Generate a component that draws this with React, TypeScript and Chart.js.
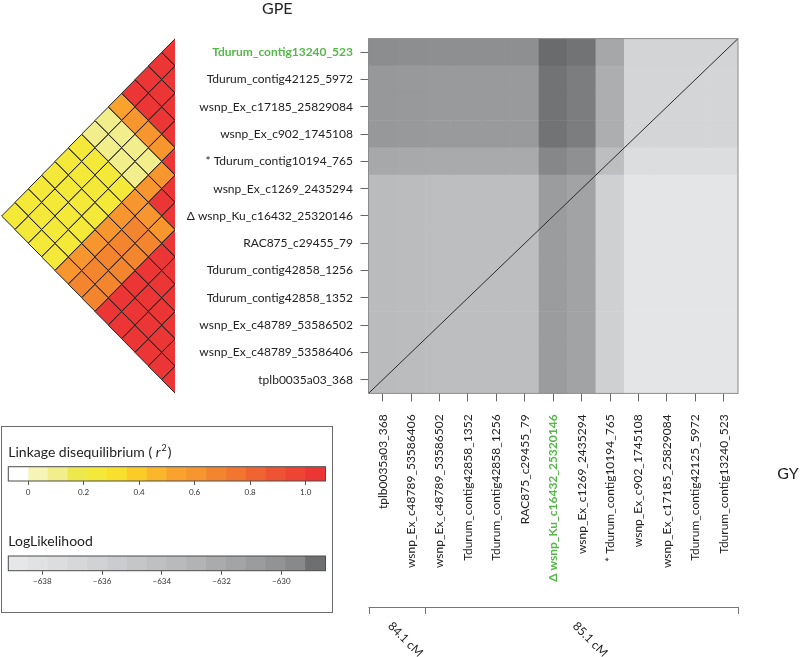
import React, { useEffect, useRef } from 'react';
import { Chart, registerables } from 'chart.js';
Chart.register(...registerables);

const FONT = 'Lato, "Open Sans", sans-serif';
const TEXT = '#222222';
const GREEN = '#55b649';

// Markers, top -> bottom (rows of the heatmap / right edge of LD triangle)
const markers = [
  'Tdurum_contig13240_523',
  'Tdurum_contig42125_5972',
  'wsnp_Ex_c17185_25829084',
  'wsnp_Ex_c902_1745108',
  '* Tdurum_contig10194_765',
  'wsnp_Ex_c1269_2435294',
  'Δ wsnp_Ku_c16432_25320146',
  'RAC875_c29455_79',
  'Tdurum_contig42858_1256',
  'Tdurum_contig42858_1352',
  'wsnp_Ex_c48789_53586502',
  'wsnp_Ex_c48789_53586406',
  'tplb0035a03_368',
];
// Columns, left -> right
const colLabels = [...markers].reverse();
const rowHighlight = 'Tdurum_contig13240_523';
const colHighlight = 'Δ wsnp_Ku_c16432_25320146';

// LogLikelihood grid (rows top->bottom, columns left->right)
const logLik = [
  [-631.2, -631.3, -631.4, -631.4, -631.4, -631.4, -628.3, -629.0, -633.5, -637.5, -637.5, -637.5, -637.5],
  [-632.2, -632.3, -632.4, -632.4, -632.4, -632.4, -629.0, -629.8, -634.1, -637.6, -637.6, -637.6, -637.6],
  [-632.2, -632.3, -632.4, -632.4, -632.4, -632.4, -629.0, -629.8, -634.1, -637.6, -637.6, -637.6, -637.6],
  [-632.2, -632.3, -632.4, -632.4, -632.4, -632.4, -629.0, -629.8, -634.1, -637.6, -637.6, -637.6, -637.6],
  [-633.6, -633.7, -633.8, -633.8, -633.8, -633.8, -630.7, -631.5, -635.5, -638.3, -638.3, -638.3, -638.3],
  [-635.3, -635.4, -635.5, -635.5, -635.5, -635.5, -632.6, -633.2, -637.1, -639.0, -639.0, -639.0, -639.0],
  [-635.3, -635.4, -635.5, -635.5, -635.5, -635.5, -632.6, -633.2, -637.1, -639.0, -639.0, -639.0, -639.0],
  [-635.3, -635.4, -635.5, -635.5, -635.5, -635.5, -632.6, -633.2, -637.1, -639.0, -639.0, -639.0, -639.0],
  [-635.3, -635.4, -635.5, -635.5, -635.5, -635.5, -632.6, -633.2, -637.1, -639.0, -639.0, -639.0, -639.0],
  [-635.3, -635.4, -635.5, -635.5, -635.5, -635.5, -632.6, -633.2, -637.1, -639.0, -639.0, -639.0, -639.0],
  [-635.3, -635.4, -635.5, -635.5, -635.5, -635.5, -632.6, -633.2, -637.1, -639.0, -639.0, -639.0, -639.0],
  [-635.3, -635.4, -635.5, -635.5, -635.5, -635.5, -632.6, -633.2, -637.1, -639.0, -639.0, -639.0, -639.0],
  [-635.3, -635.4, -635.5, -635.5, -635.5, -635.5, -632.6, -633.2, -637.1, -639.0, -639.0, -639.0, -639.0],
];

// LD r^2, upper triangle: row i holds pairs (i, j) for j = i..12
const ldRows = [
  [1, 1, 1, 1, 0.55, 0.1, 0.1, 0.25, 0.25, 0.25, 0.25, 0.25, 0.25],
  [1, 1, 1, 0.6, 0.1, 0.1, 0.25, 0.25, 0.25, 0.25, 0.25, 0.25],
  [1, 1, 0.6, 0.1, 0.1, 0.25, 0.25, 0.25, 0.25, 0.25, 0.25],
  [1, 0.6, 0.1, 0.1, 0.25, 0.25, 0.25, 0.25, 0.25, 0.25],
  [1, 0.6, 0.6, 0.6, 0.6, 0.6, 0.6, 0.6, 0.6],
  [1, 1, 0.6, 0.65, 0.65, 0.65, 0.65, 0.65],
  [1, 0.6, 0.65, 0.65, 0.65, 0.65, 0.65],
  [1, 1, 1, 1, 1, 1],
  [1, 1, 1, 1, 1],
  [1, 1, 1, 1],
  [1, 1, 1],
  [1, 1],
  [1],
];

// Legend scales
const ldPalette = ['#ffffff', '#f7f4b8', '#f3ee8c', '#ede94c', '#f4e838', '#f9e02c', '#fdcb28', '#fbb62b', '#f9a22d', '#f7952e', '#f4852f', '#f27530', '#f06432', '#ee5433', '#ed4434', '#ec3535'];
const ldBreaks = [-0.0714, 0, 0.0714, 0.1429, 0.2143, 0.2857, 0.3571, 0.4286, 0.5, 0.5714, 0.6429, 0.7143, 0.7857, 0.8571, 0.9286, 1.0, 1.0714];
const ldTicks = [0, 0.2, 0.4, 0.6, 0.8, 1.0];
const ldTickLabels = ['0', '0.2', '0.4', '0.6', '0.8', '1.0'];

const llPalette = ['#e6e7e8', '#e1e2e3', '#dcdddf', '#d7d8da', '#d1d2d4', '#cbcccf', '#c5c6c8', '#bfc0c2', '#b9babc', '#b2b3b5', '#aaabad', '#a3a4a6', '#9b9c9e', '#929395', '#88898b', '#6e6f71'];
const llBreaks = [-639.14, -638.48, -637.81, -637.15, -636.49, -635.82, -635.16, -634.5, -633.83, -633.17, -632.51, -631.84, -631.18, -630.52, -629.85, -629.19, -628.52];
const llTicks = [-638, -636, -634, -632, -630];
const llTickLabels = ['\u2212638', '\u2212636', '\u2212634', '\u2212632', '\u2212630'];

// Genetic map segments below the heatmap (columns left -> right)
const distanceLabels = ['84.1 cM', '85.1 cM'];
const distanceCounts = [2, 11];

const yTitle = 'GPE';
const xTitle = 'GY';

function ldColor(v: number) {
  for (let k = 0; k < ldPalette.length; k++) {
    if (v >= ldBreaks[k] && v < ldBreaks[k + 1]) return ldPalette[k];
  }
  return ldPalette[ldPalette.length - 1];
}
function llColor(v: number) {
  const lo = llBreaks[0];
  const hi = llBreaks[llBreaks.length - 1];
  const g = Math.round(Math.max(95, Math.min(232, 230 - ((v - lo) / (hi - lo)) * 121)));
  return `rgb(${g},${g + 1},${g + 3})`;
}

const base: any = {
  responsive: false,
  maintainAspectRatio: false,
  animation: false,
  devicePixelRatio: 1,
  events: [],
  plugins: { legend: { display: false }, tooltip: { enabled: false }, title: { display: false } },
};

function triangleConfig(): any {
  const pts: any[] = [];
  const cols: string[] = [];
  ldRows.forEach((row, i) =>
    row.forEach((v, k) => {
      const j = i + k;
      pts.push({ x: -(j - i) / 2, y: (i + j + 1) / 2 });
      cols.push(ldColor(v));
    })
  );
  return {
    type: 'scatter',
    data: {
      datasets: [
        {
          data: pts,
          pointStyle: 'rectRot',
          pointBackgroundColor: cols,
          pointBorderColor: '#1f1f1f',
          pointBorderWidth: 1,
          pointRadius: (c: any) => {
            const s = c.chart.scales.x;
            return Math.abs(s.getPixelForValue(0.5) - s.getPixelForValue(0));
          },
          showLine: false,
          clip: { left: 2, top: 2, right: 0, bottom: 2 },
        },
      ],
    },
    options: {
      ...base,
      layout: { padding: { left: 1.6, right: 7, top: 8.6, bottom: 6.6 } },
      scales: {
        x: { type: 'linear', min: -6.5, max: 0, display: false },
        y: { type: 'linear', min: 0, max: 13, reverse: true, display: false },
      },
    },
  };
}

const heatFrame = {
  id: 'heatFrame',
  afterDatasetsDraw(chart: any) {
    const { ctx, chartArea: a } = chart;
    ctx.save();
    ctx.strokeStyle = '#8c8c8c';
    ctx.lineWidth = 1;
    ctx.strokeRect(a.left, a.top, a.right - a.left, a.bottom - a.top);
    ctx.restore();
  },
};

const heatExtras = {
  id: 'heatExtras',
  afterDraw(chart: any) {
    const { ctx, chartArea: a } = chart;
    const xs = chart.scales.x;
    const ys = chart.scales.y;
    ctx.save();
    ctx.fillStyle = TEXT;
    ctx.font = `16px ${FONT}`;
    ctx.textAlign = 'center';
    ctx.textBaseline = 'alphabetic';
    ctx.fillText(yTitle, (ys.left + ys.right) / 2 + 2, a.top - 25);
    ctx.fillText(xTitle, a.right + 50, xs.top + 86);

    // genetic map line
    const yLine = xs.top + 213.6;
    ctx.strokeStyle = '#777777';
    ctx.lineWidth = 1;
    ctx.beginPath();
    ctx.moveTo(xs.getPixelForValue(0), yLine + 0.5);
    ctx.lineTo(xs.getPixelForValue(13), yLine + 0.5);
    let acc = 0;
    const bounds = [0];
    distanceCounts.forEach((n) => {
      acc += n;
      bounds.push(acc);
    });
    bounds.forEach((b) => {
      const px = Math.round(xs.getPixelForValue(b)) + 0.5;
      ctx.moveTo(px, yLine);
      ctx.lineTo(px, yLine + 7);
    });
    ctx.stroke();
    ctx.font = `12px ${FONT}`;
    ctx.textAlign = 'left';
    ctx.textBaseline = 'middle';
    distanceLabels.forEach((lab, i) => {
      const c = (xs.getPixelForValue(bounds[i]) + xs.getPixelForValue(bounds[i + 1])) / 2;
      ctx.save();
      ctx.translate(c - 7, yLine + 17);
      ctx.rotate(Math.PI / 4);
      ctx.fillText(lab, 0, 0);
      ctx.restore();
    });
    ctx.restore();
  },
};

function heatConfig(): any {
  const cells: any[] = [];
  const colors: string[] = [];
  logLik.forEach((row, r) =>
    row.forEach((v, c) => {
      cells.push({ x: c + 0.5, y: [r, r + 1] });
      colors.push(llColor(v));
    })
  );
  return {
    type: 'bar',
    data: {
      datasets: [
        {
          type: 'line',
          data: [
            { x: 0, y: 13 },
            { x: 13, y: 0 },
          ],
          borderColor: '#2b2b2b',
          borderWidth: 1,
          pointRadius: 0,
          order: 0,
        },
        {
          type: 'bar',
          data: cells,
          backgroundColor: colors,
          borderWidth: 0,
          barPercentage: 1,
          categoryPercentage: 1,
          grouped: false,
          order: 1,
        },
      ],
    },
    options: {
      ...base,
      layout: { padding: { left: 0, top: 38.6, right: 62, bottom: 0 } },
      scales: {
        x: {
          type: 'linear',
          min: 0,
          max: 13,
          offset: false,
          position: 'bottom',
          afterBuildTicks: (s: any) => {
            s.ticks = colLabels.map((_, i) => ({ value: i + 0.5 }));
          },
          afterFit: (s: any) => {
            s.height = 263.6;
          },
          ticks: {
            autoSkip: false,
            minRotation: 90,
            maxRotation: 90,
            padding: 13,
            callback: (_v: any, i: number) => colLabels[i],
            color: (c: any) => (colLabels[c.index] === colHighlight ? GREEN : TEXT),
            font: (c: any) => ({ family: FONT, size: 12, weight: colLabels[c.index] === colHighlight ? 'bold' : 'normal' }),
          },
          grid: { display: true, offset: false, drawOnChartArea: false, drawTicks: true, tickLength: 8, color: '#666666' },
          border: { display: false },
        },
        y: {
          type: 'linear',
          min: 0,
          max: 13,
          reverse: true,
          offset: false,
          position: 'left',
          afterBuildTicks: (s: any) => {
            s.ticks = markers.map((_, i) => ({ value: i + 0.5 }));
          },
          afterFit: (s: any) => {
            s.width = 186.5;
          },
          ticks: {
            autoSkip: false,
            padding: 7.5,
            callback: (_v: any, i: number) => markers[i],
            color: (c: any) => (markers[c.index] === rowHighlight ? GREEN : TEXT),
            font: (c: any) => ({ family: FONT, size: 12, weight: markers[c.index] === rowHighlight ? 'bold' : 'normal' }),
          },
          grid: { display: true, offset: false, drawOnChartArea: false, drawTicks: true, tickLength: 8, color: '#666666' },
          border: { display: false },
        },
      },
    },
    plugins: [heatFrame, heatExtras],
  };
}

type Part = { text: string; italic?: boolean; sup?: boolean; gap?: number };

function colorbarConfig(
  palette: string[],
  breaks: number[],
  ticks: number[],
  labels: string[],
  title: Part[],
  padTop: number,
  axisHeight: number,
  labelPad: number
): any {
  const outline = {
    id: 'cbOutline',
    afterDatasetsDraw(chart: any) {
      const { ctx, chartArea: a } = chart;
      ctx.save();
      ctx.strokeStyle = '#4d4d4d';
      ctx.lineWidth = 1;
      ctx.strokeRect(a.left, a.top, a.right - a.left, a.bottom - a.top);
      ctx.restore();
    },
  };
  const titleDraw = {
    id: 'cbTitle',
    afterDraw(chart: any) {
      const { ctx, chartArea: a } = chart;
      ctx.save();
      ctx.fillStyle = TEXT;
      ctx.textAlign = 'left';
      ctx.textBaseline = 'alphabetic';
      let x = a.left;
      const y = a.top - 10;
      title.forEach((p) => {
        ctx.font = `${p.italic ? 'italic ' : ''}${p.sup ? 9 : 14}px ${FONT}`;
        ctx.fillText(p.text, x, p.sup ? y - 6 : y);
        x += ctx.measureText(p.text).width + (p.gap || 0);
      });
      ctx.restore();
    },
  };
  return {
    type: 'bar',
    data: {
      labels: ['bar'],
      datasets: [
        {
          data: palette.map((_, k) => ({ y: 'bar', x: [breaks[k], breaks[k + 1]] })),
          backgroundColor: palette,
          borderWidth: 0,
          barPercentage: 1,
          categoryPercentage: 1,
        },
      ],
    },
    options: {
      ...base,
      indexAxis: 'y',
      layout: { padding: { left: 8.3, right: 14.5, top: padTop, bottom: 0 } },
      scales: {
        y: { type: 'category', display: false },
        x: {
          type: 'linear',
          min: breaks[0],
          max: breaks[breaks.length - 1],
          offset: false,
          afterBuildTicks: (s: any) => {
            s.ticks = ticks.map((v) => ({ value: v }));
          },
          afterFit: (s: any) => {
            s.height = axisHeight;
          },
          ticks: {
            autoSkip: false,
            maxRotation: 0,
            padding: labelPad,
            color: '#333333',
            font: { family: FONT, size: 8 },
            callback: (_v: any, i: number) => labels[i],
          },
          grid: { display: true, offset: false, drawOnChartArea: false, drawTicks: true, tickLength: 4, color: '#555555' },
          border: { display: false },
        },
      },
    },
    plugins: [outline, titleDraw],
  };
}

function useChart(ref: React.RefObject<HTMLCanvasElement | null>, make: () => any) {
  useEffect(() => {
    if (!ref.current) return;
    const chart = new Chart(ref.current, make());
    return () => chart.destroy();
  }, []);
}

export default function App() {
  const triRef = useRef<HTMLCanvasElement>(null);
  const heatRef = useRef<HTMLCanvasElement>(null);
  const ldRef = useRef<HTMLCanvasElement>(null);
  const llRef = useRef<HTMLCanvasElement>(null);

  useChart(triRef, triangleConfig);
  useChart(heatRef, heatConfig);
  useChart(ldRef, () =>
    colorbarConfig(
      ldPalette,
      ldBreaks,
      ldTicks,
      ldTickLabels,
      [{ text: 'Linkage disequilibrium ( ' }, { text: 'r', italic: true, gap: 1 }, { text: '2', sup: true, gap: 1 }, { text: ')' }],
      26.7,
      24,
      3
    )
  );
  useChart(llRef, () =>
    colorbarConfig(llPalette, llBreaks, llTicks, llTickLabels, [{ text: 'LogLikelihood' }], 26, 24.3, 1.5)
  );

  const abs = (l: number, t: number): React.CSSProperties => ({ position: 'absolute', left: l, top: t });

  return (
    <div style={{ position: 'absolute', left: 0, top: 0, width: 800, height: 657, background: '#ffffff', overflow: 'hidden' }}>
      <canvas ref={triRef} width={182} height={370} style={abs(0, 30)} />
      <canvas ref={heatRef} width={618} height={657} style={abs(182, 0)} />
      <div
        style={{
          ...abs(1, 426),
          width: 332,
          height: 187,
          boxSizing: 'border-box',
          border: '1px solid #6b6b6b',
        }}
      />
      <canvas ref={ldRef} width={340} height={65} style={abs(0, 440)} />
      <canvas ref={llRef} width={340} height={65} style={abs(0, 530)} />
    </div>
  );
}
